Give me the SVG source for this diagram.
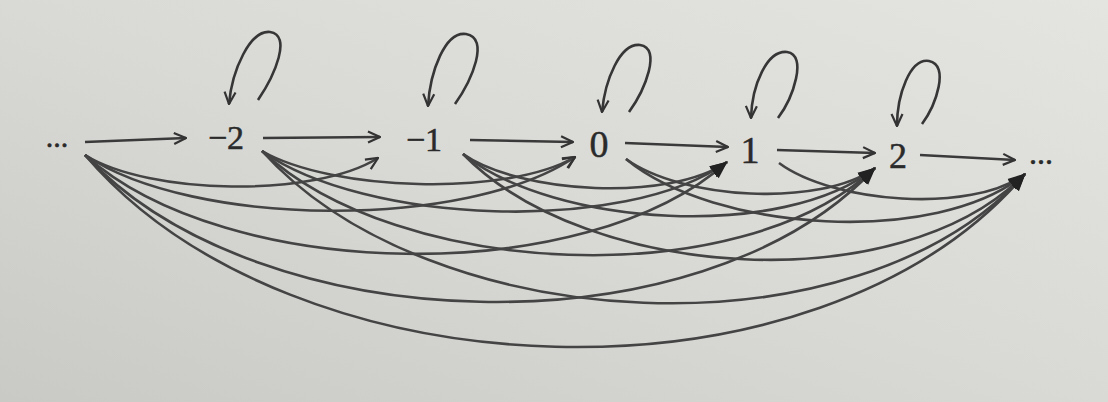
<svg xmlns="http://www.w3.org/2000/svg" width="1108" height="402" viewBox="0 0 1108 402">
<defs>
<linearGradient id="bg" x1="0" y1="1" x2="1" y2="0">
<stop offset="0" stop-color="#c9c9c6"/>
<stop offset="0.5" stop-color="#d9d9d6"/>
<stop offset="1" stop-color="#e4e4e1"/>
</linearGradient>
<marker id="open" viewBox="0 0 14 14" refX="13" refY="7" markerWidth="14" markerHeight="14" markerUnits="userSpaceOnUse" orient="auto">
<path d="M1,1.5 L13,7 L1,12.5" fill="none" stroke="#333" stroke-width="2.2"/>
</marker>
<marker id="solid" viewBox="0 0 18 14" refX="17" refY="7" markerWidth="18" markerHeight="14" markerUnits="userSpaceOnUse" orient="auto">
<path d="M0,0.5 L18,7 L0,13.5 Z" fill="#222"/>
</marker>
<style>
.lbl{font-family:"Liberation Serif","Times New Roman",serif;fill:#2a2a2a;stroke:#2a2a2a;stroke-width:0.5;text-anchor:middle}
.edge{fill:none;stroke:#3a3a3a;stroke-width:2.4;marker-end:url(#open)}
.loop{fill:none;stroke:#363636;stroke-width:2.6;marker-end:url(#open)}
.curve{fill:none;stroke:#444;stroke-width:2.6}
.co{marker-end:url(#open)}
.cs{marker-end:url(#solid)}
</style>
</defs>
<rect x="0" y="0" width="1108" height="402" fill="url(#bg)"/>
<g id="connectors">
<path class="edge" d="M85,142 L186,138"/>
<path class="edge" d="M263,138 L380,137"/>
<path class="edge" d="M470,140 L573,142"/>
<path class="edge" d="M625,143 L728,147"/>
<path class="edge" d="M777,150 L875,153"/>
<path class="edge" d="M920,155 L1015,160"/>
<path class="loop" d="M258,100 C275,75 292,35 270,32 C250,30 232,70 229,104"/>
<path class="loop" d="M455,104 C472,80 490,38 466,34 C445,31 430,72 428,106"/>
<path class="loop" d="M629,112 C645,90 662,48 640,45 C620,43 605,80 602,112"/>
<path class="loop" d="M778,118 C793,98 808,55 787,52 C767,50 752,85 751,118"/>
<path class="loop" d="M922,124 C936,105 950,65 929,61 C910,58 897,95 897,126"/>
<path class="curve co" d="M85,155 C149,195 314,198 378,158"/>
<path class="curve co" d="M85,155 C193,228 467,230 575,157"/>
<path class="curve cs" d="M85,155 C226,282 586,289 727,162"/>
<path class="curve cs" d="M85,155 C259,342 701,355 875,168"/>
<path class="curve cs" d="M85,155 C292,398 818,417 1025,174"/>
<path class="curve co" d="M262,151 C331,191 506,197 575,157"/>
<path class="curve cs" d="M262,151 C364,224 625,235 727,162"/>
<path class="curve cs" d="M262,151 C397,278 740,295 875,168"/>
<path class="curve cs" d="M262,151 C430,338 857,361 1025,174"/>
<path class="curve cs" d="M463,154 C521,194 669,202 727,162"/>
<path class="curve cs" d="M463,154 C554,227 784,241 875,168"/>
<path class="curve cs" d="M463,154 C587,281 901,301 1025,174"/>
<path class="curve cs" d="M626,159 C681,199 820,208 875,168"/>
<path class="curve cs" d="M626,159 C714,232 937,247 1025,174"/>
<path class="curve cs" d="M779,163 C833,203 971,214 1025,174"/>
</g>
<g id="node-left-ellipsis"><text class="lbl" x="57" y="147" font-size="30">...</text></g>
<g id="node-minus2"><text class="lbl" x="226" y="149" font-size="34">−2</text></g>
<g id="node-minus1"><text class="lbl" x="424" y="151" font-size="34">−1</text></g>
<g id="node-0"><text class="lbl" x="599" y="157" font-size="38">0</text></g>
<g id="node-1"><text class="lbl" x="750" y="163" font-size="38">1</text></g>
<g id="node-2"><text class="lbl" x="898" y="168" font-size="36">2</text></g>
<g id="node-right-ellipsis"><text class="lbl" x="1041" y="164" font-size="32">...</text></g>
</svg>
